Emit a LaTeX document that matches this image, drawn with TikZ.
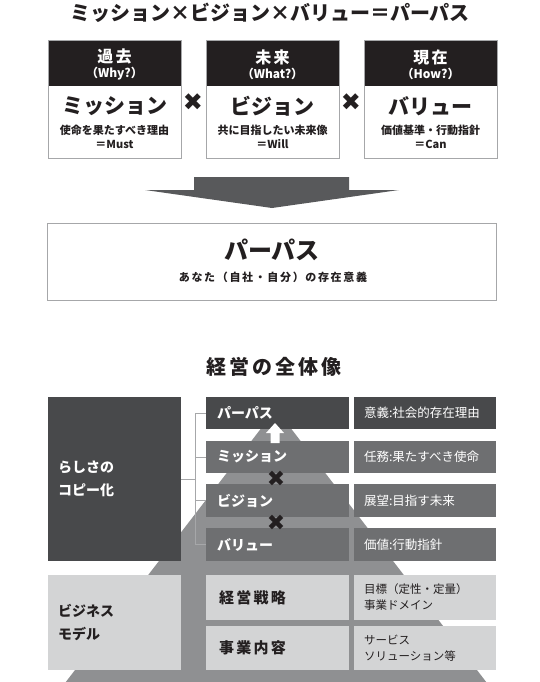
\documentclass[tikz,border=0pt]{standalone}
\usepackage{fontspec}
\usepackage{tikz}
\newfontfamily\jp{Noto Sans CJK JP}
\newfontfamily\jpwide{Noto Sans CJK JP}[LetterSpace=15]
\newfontfamily\sym{DejaVu Sans}
\definecolor{inkblack}{HTML}{231F20}
\definecolor{darkgrey}{HTML}{48494B}
\definecolor{midgrey}{HTML}{6E6F71}
\definecolor{pyrgrey}{HTML}{8F9092}
\definecolor{lightgrey}{HTML}{D3D4D5}
\definecolor{arrowgrey}{HTML}{58595B}
\definecolor{rulegrey}{HTML}{A6A7A9}

\begin{document}
\begin{tikzpicture}[x=1pt, y=-1pt, line width=0.8pt,
    every node/.style={inner sep=0pt, font=\jp},
    headline/.style={font=\jp\bfseries\fontsize{20}{24}\selectfont, text=inkblack},
    headtxt/.style={font=\jpwide\bfseries\fontsize{16}{18}\selectfont, text=white},
    asktxt/.style={font=\jp\bfseries\fontsize{12}{14}\selectfont, text=white},
    nametxt/.style={font=\jp\bfseries\fontsize{21}{24}\selectfont, text=inkblack},
    subtxt/.style={font=\jp\bfseries\fontsize{11}{13}\selectfont, text=inkblack},
    timestxt/.style={font=\sym\fontsize{24}{26}\selectfont, text=inkblack},
    panel/.style={rectangle, inner xsep=10pt, text width=113pt, minimum width=133pt, align=left,
      font=\jp\bfseries\fontsize{14}{22.5}\selectfont},
    rowtxt/.style={rectangle, minimum height=32.5pt, text width=121pt, inner xsep=11pt, align=left,
      text=white, font=\jp\bfseries\fontsize{14}{16}\selectfont},
    infotxt/.style={rectangle, minimum height=32.5pt, text width=122pt, inner xsep=10pt, align=left,
      text=white, font=\jp\fontsize{12.5}{15}\selectfont},
    plantxt/.style={rectangle, text width=117pt, inner xsep=13pt, align=left,
      text=inkblack, fill=lightgrey, font=\jpwide\bfseries\fontsize{15}{18}\selectfont},
    notetxt/.style={rectangle, text width=122pt, inner xsep=10pt, align=left,
      text=inkblack, fill=lightgrey, font=\jp\fontsize{11.5}{16}\selectfont},
    bracket/.style={color=rulegrey, line width=0.8pt}
  ]
    \useasboundingbox (0, 0) rectangle (540, 682);

    % draw formula title
    \node[headline] (formula) at (270, 13) {ミッション×ビジョン×バリュー＝パーパス};

    % draw three boxes
    \fill[inkblack] (48, 40) rectangle (181, 86);
    \draw[color=rulegrey] (48, 40) rectangle (181, 158);
    \node[headtxt] (past) at (114.5, 57) {過去};
    \node[asktxt] (pastask) at (114.5, 74) {（Why?）};
    \node[nametxt] (mission) at (114.5, 106) {ミッション};
    \node[subtxt] (missionsub) at (114.5, 130) {使命を果たすべき理由};
    \node[subtxt] (missioneq) at (114.5, 144) {＝Must};

    \fill[inkblack] (206, 40) rectangle (339, 86);
    \draw[color=rulegrey] (206, 40) rectangle (339, 158);
    \node[headtxt] (future) at (272.5, 57) {未来};
    \node[asktxt] (futureask) at (272.5, 74) {（What?）};
    \node[nametxt] (vision) at (272.5, 106) {ビジョン};
    \node[subtxt] (visionsub) at (272.5, 130) {共に目指したい未来像};
    \node[subtxt] (visioneq) at (272.5, 144) {＝Will};

    \fill[inkblack] (364, 40) rectangle (497, 86);
    \draw[color=rulegrey] (364, 40) rectangle (497, 158);
    \node[headtxt] (now) at (430.5, 57) {現在};
    \node[asktxt] (nowask) at (430.5, 74) {（How?）};
    \node[nametxt] (value) at (430.5, 106) {バリュー};
    \node[subtxt] (valuesub) at (430.5, 130) {価値基準・行動指針};
    \node[subtxt] (valueeq) at (430.5, 144) {＝Can};

    \node[timestxt] (times1) at (193, 102) {✖};
    \node[timestxt] (times2) at (351, 102) {✖};

    % draw big arrow
    \fill[arrowgrey] (194, 177) -- (349, 177) -- (349, 190) -- (399, 190)
        -- (272, 208) -- (145, 190) -- (194, 190) -- cycle;

    % draw purpose box
    \draw[color=rulegrey] (47.5, 223) rectangle (496.5, 300);
    \node[font=\jp\bfseries\fontsize{24}{26}\selectfont, text=inkblack] (purpose) at (272, 250) {パーパス};
    \node[font=\jpwide\bfseries\fontsize{11}{13}\selectfont, text=inkblack] (purposesub) at (273, 277)
      {あなた（自社・自分）の存在意義};

    % draw overview title
    \node[font=\jpwide\bfseries\fontsize{20}{24}\selectfont, text=inkblack] (overview) at (274, 367) {経営の全体像};

    % draw pyramid
    \begin{scope}
      \clip (0, 0) rectangle (540, 682);
      \fill[pyrgrey] (276, 409) -- (507, 709) -- (45, 709) -- cycle;
    \end{scope}

    % draw left panels
    \node[panel, fill=darkgrey, text=white, minimum height=164pt] (copy) at (114.5, 479) {らしさの\\コピー化};
    \node[panel, fill=lightgrey, text=inkblack, minimum height=95pt] (model) at (114.5, 622.5) {ビジネス\\モデル};

    % draw pyramid rows
    \node[rowtxt, fill=darkgrey] (purp) at (277.5, 413) {パーパス};
    \node[rowtxt, fill=midgrey] (miss) at (277.5, 457) {ミッション};
    \node[rowtxt, fill=midgrey] (visn) at (277.5, 500.5) {ビジョン};
    \node[rowtxt, fill=midgrey] (valu) at (277.5, 544.5) {バリュー};

    \node[infotxt, fill=darkgrey] (purpinfo) at (425, 413) {意義:社会的存在理由};
    \node[infotxt, fill=midgrey] (missinfo) at (425, 457) {任務:果たすべき使命};
    \node[infotxt, fill=midgrey] (visninfo) at (425, 500.5) {展望:目指す未来};
    \node[infotxt, fill=midgrey] (valuinfo) at (425, 544.5) {価値:行動指針};

    % draw business rows
    \node[plantxt, minimum height=45pt] (strategy) at (277.5, 597.5) {経営戦略};
    \node[plantxt, minimum height=44.5pt] (business) at (277.5, 648) {事業内容};
    \node[notetxt, minimum height=45pt] (strategyinfo) at (425, 597.5) {目標（定性・定量）\\事業ドメイン};
    \node[notetxt, minimum height=44.5pt] (businessinfo) at (425, 648) {サービス\\ソリューション等};

    % draw bracket
    \coordinate (fork) at (195, 479);
    \draw[bracket] (copy.east) -- (fork);
    \draw[bracket] (fork |- purp.west) -- (fork |- valu.west);
    \draw[bracket] (fork |- purp.west) -- (purp.west);
    \draw[bracket] (fork |- miss.west) -- (miss.west);
    \draw[bracket] (fork |- visn.west) -- (visn.west);
    \draw[bracket] (fork |- valu.west) -- (valu.west);

    % draw crosses and white arrow
    \node[timestxt, font=\sym\fontsize{22}{24}\selectfont] (times3) at (276, 479) {✖};
    \node[timestxt, font=\sym\fontsize{22}{24}\selectfont] (times4) at (276, 523) {✖};
    \fill[white] (275, 423) -- (284, 433) -- (279.5, 433) -- (279.5, 443)
        -- (270.5, 443) -- (270.5, 433) -- (266, 433) -- cycle;

\end{tikzpicture}
\end{document}
